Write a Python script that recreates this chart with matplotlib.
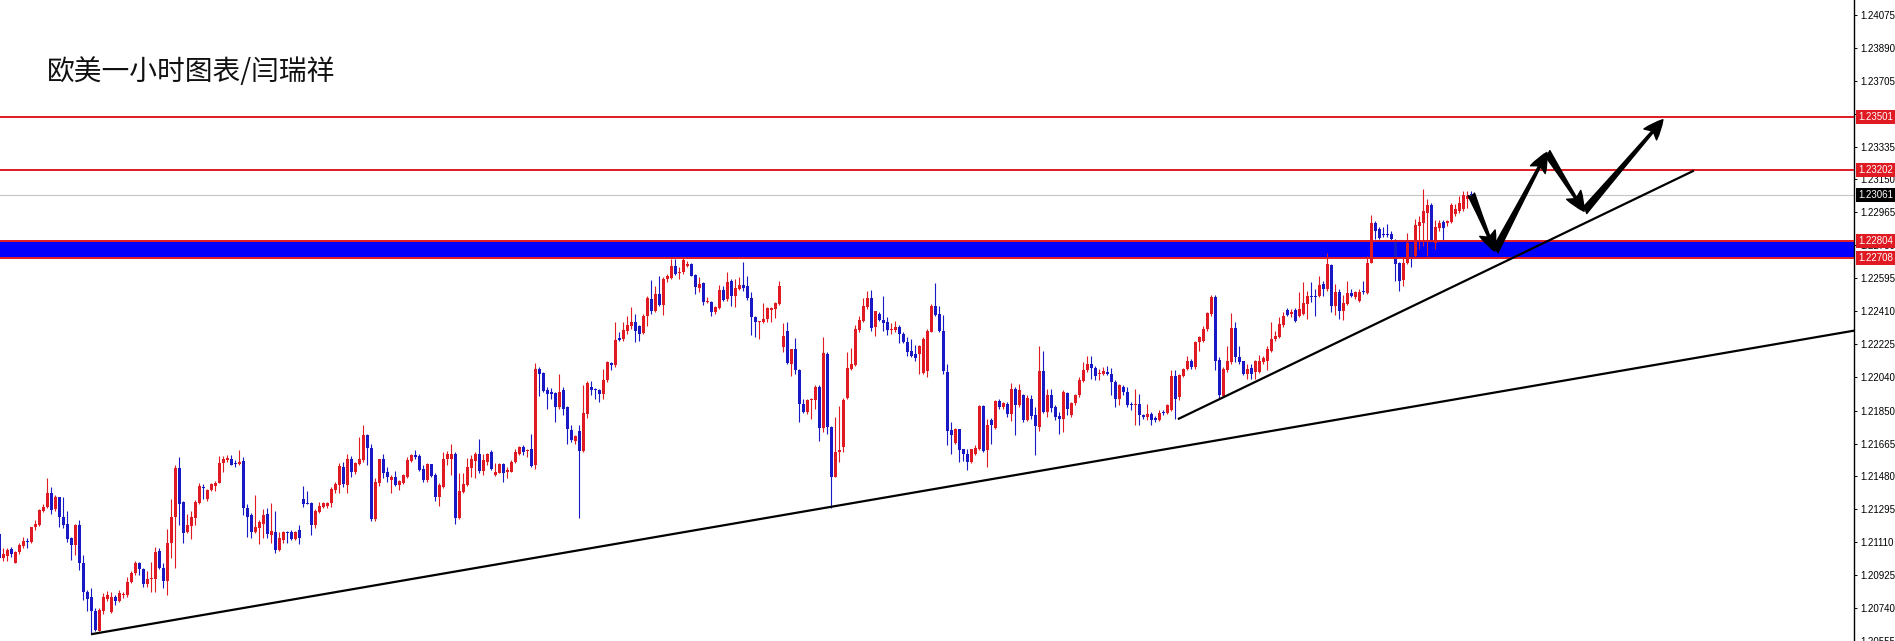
import matplotlib
matplotlib.use("Agg")
import matplotlib.pyplot as plt
import matplotlib.transforms as mtransforms
from matplotlib.patches import FancyArrowPatch

# EURUSD 1h candles, oldest first
opens = [
    1.21155, 1.21020, 1.21031, 1.21073, 1.20996, 1.21054, 1.21089, 1.21117, 1.21114, 1.21194,
    1.21207, 1.21285, 1.21310, 1.21385, 1.21295, 1.21362, 1.21254, 1.21213, 1.21132, 1.21095,
    1.21207, 1.20992, 1.20828, 1.20800, 1.20721, 1.20613, 1.20721, 1.20792, 1.20718, 1.20805,
    1.20781, 1.20811, 1.20815, 1.20889, 1.20936, 1.20992, 1.20959, 1.20876, 1.20903, 1.20904,
    1.21063, 1.20968, 1.20893, 1.21108, 1.21254, 1.21525, 1.21338, 1.21166, 1.21203, 1.21248,
    1.21329, 1.21422, 1.21353, 1.21403, 1.21428, 1.21446, 1.21558, 1.21575, 1.21577, 1.21553,
    1.21549, 1.21568, 1.21304, 1.21263, 1.21166, 1.21188, 1.21211, 1.21267, 1.21151, 1.21170,
    1.21067, 1.21123, 1.21166, 1.21166, 1.21129, 1.21177, 1.21352, 1.21333, 1.21329, 1.21208,
    1.21282, 1.21311, 1.21316, 1.21329, 1.21404, 1.21432, 1.21531, 1.21432, 1.21576, 1.21503,
    1.21550, 1.21572, 1.21716, 1.21641, 1.21241, 1.21441, 1.21576, 1.21507, 1.21460, 1.21479,
    1.21432, 1.21441, 1.21479, 1.21568, 1.21600, 1.21594, 1.21522, 1.21460, 1.21548, 1.21488,
    1.21367, 1.21423, 1.21578, 1.21581, 1.21606, 1.21245, 1.21391, 1.21432, 1.21525, 1.21568,
    1.21609, 1.21510, 1.21563, 1.21619, 1.21488, 1.21501, 1.21550, 1.21503, 1.21507, 1.21559,
    1.21609, 1.21647, 1.21622, 1.21632, 1.21544, 1.22086, 1.22063, 1.21968, 1.21949, 1.21949,
    1.21871, 1.21964, 1.21871, 1.21744, 1.21680, 1.21736, 1.21622, 1.21834, 1.21983, 1.21970,
    1.21964, 1.21942, 1.22020, 1.22119, 1.22104, 1.22257, 1.22253, 1.22300, 1.22328, 1.22347,
    1.22328, 1.22287, 1.22380, 1.22478, 1.22408, 1.22506, 1.22444, 1.22590, 1.22595, 1.22664,
    1.22623, 1.22627, 1.22664, 1.22672, 1.22612, 1.22537, 1.22567, 1.22459, 1.22463, 1.22403,
    1.22425, 1.22530, 1.22478, 1.22580, 1.22493, 1.22534, 1.22556, 1.22549, 1.22483, 1.22379,
    1.22347, 1.22347, 1.22366, 1.22418, 1.22422, 1.22450, 1.22207, 1.22296, 1.22110, 1.22194,
    1.22080, 1.21889, 1.21842, 1.21908, 1.21908, 1.21983, 1.21755, 1.22169, 1.21758, 1.21478,
    1.21618, 1.21646, 1.21923, 1.22085, 1.22104, 1.22304, 1.22356, 1.22431, 1.22481, 1.22319,
    1.22394, 1.22362, 1.22347, 1.22304, 1.22304, 1.22323, 1.22282, 1.22235, 1.22188, 1.22169,
    1.22169, 1.22063, 1.22071, 1.22295, 1.22437, 1.22394, 1.22300, 1.22067, 1.21740, 1.21671,
    1.21745, 1.21637, 1.21609, 1.21559, 1.21609, 1.21637, 1.21874, 1.21628, 1.21796, 1.21753,
    1.21902, 1.21871, 1.21886, 1.21830, 1.21973, 1.21880, 1.21940, 1.21796, 1.21917, 1.21824,
    1.21759, 1.22072, 1.21843, 1.21936, 1.21871, 1.21818, 1.21805, 1.21949, 1.21824, 1.21893,
    1.21936, 1.22016, 1.22076, 1.22114, 1.22091, 1.22054, 1.22058, 1.22067, 1.22058, 1.22014,
    1.21914, 1.21983, 1.21955, 1.21886, 1.21880, 1.21889, 1.21824, 1.21815, 1.21833, 1.21809,
    1.21796, 1.21843, 1.21839, 1.21852, 1.22043, 1.21927, 1.22044, 1.22082, 1.22127, 1.22095,
    1.22235, 1.22244, 1.22309, 1.22393, 1.22490, 1.22137, 1.21932, 1.22076, 1.22122, 1.22315,
    1.22151, 1.22128, 1.22057, 1.22089, 1.22066, 1.22070, 1.22122, 1.22132, 1.22188, 1.22253,
    1.22263, 1.22332, 1.22416, 1.22393, 1.22418, 1.22384, 1.22393, 1.22449, 1.22496, 1.22496,
    1.22496, 1.22561, 1.22534, 1.22670, 1.22436, 1.22515, 1.22412, 1.22449, 1.22509, 1.22490,
    1.22468, 1.22524, 1.22511, 1.22683, 1.22903, 1.22873, 1.22842, 1.22842, 1.22845, 1.22810,
    1.22683, 1.22586, 1.22683, 1.22786, 1.22720, 1.22888, 1.22903, 1.22963, 1.23006, 1.22795,
    1.22879, 1.22911, 1.22903, 1.22911, 1.22954, 1.22972, 1.22982, 1.23038, 1.23063,
]
highs = [
    1.21170, 1.21076, 1.21080, 1.21082, 1.21061, 1.21104, 1.21142, 1.21132, 1.21198, 1.21235,
    1.21297, 1.21323, 1.21474, 1.21422, 1.21375, 1.21366, 1.21362, 1.21287, 1.21142, 1.21213,
    1.21235, 1.21039, 1.20843, 1.20852, 1.20740, 1.20740, 1.20824, 1.20837, 1.20830, 1.20815,
    1.20843, 1.20833, 1.20914, 1.20949, 1.21005, 1.20998, 1.20964, 1.20946, 1.20998, 1.21086,
    1.21076, 1.20992, 1.21185, 1.21351, 1.21547, 1.21590, 1.21342, 1.21267, 1.21285, 1.21347,
    1.21446, 1.21435, 1.21409, 1.21441, 1.21454, 1.21596, 1.21594, 1.21599, 1.21603, 1.21571,
    1.21631, 1.21590, 1.21323, 1.21272, 1.21375, 1.21235, 1.21297, 1.21300, 1.21332, 1.21285,
    1.21166, 1.21173, 1.21173, 1.21179, 1.21173, 1.21207, 1.21428, 1.21398, 1.21335, 1.21297,
    1.21335, 1.21339, 1.21339, 1.21423, 1.21451, 1.21557, 1.21559, 1.21604, 1.21596, 1.21563,
    1.21703, 1.21768, 1.21721, 1.21665, 1.21469, 1.21581, 1.21609, 1.21535, 1.21488, 1.21510,
    1.21460, 1.21492, 1.21591, 1.21609, 1.21628, 1.21607, 1.21544, 1.21553, 1.21550, 1.21497,
    1.21441, 1.21619, 1.21622, 1.21662, 1.21619, 1.21497, 1.21497, 1.21585, 1.21600, 1.21619,
    1.21688, 1.21609, 1.21613, 1.21628, 1.21553, 1.21553, 1.21553, 1.21531, 1.21572, 1.21637,
    1.21650, 1.21656, 1.21634, 1.21721, 1.22117, 1.22095, 1.22067, 1.21983, 1.21977, 1.21955,
    1.22058, 1.21983, 1.21877, 1.21768, 1.21716, 1.21768, 1.21992, 1.22015, 1.22015, 1.21977,
    1.21970, 1.22082, 1.22128, 1.22126, 1.22347, 1.22295, 1.22347, 1.22384, 1.22435, 1.22394,
    1.22332, 1.22394, 1.22493, 1.22586, 1.22549, 1.22605, 1.22599, 1.22618, 1.22702, 1.22702,
    1.22655, 1.22711, 1.22692, 1.22679, 1.22618, 1.22599, 1.22571, 1.22487, 1.22466, 1.22440,
    1.22556, 1.22552, 1.22627, 1.22590, 1.22590, 1.22599, 1.22687, 1.22605, 1.22515, 1.22380,
    1.22356, 1.22455, 1.22431, 1.22435, 1.22463, 1.22580, 1.22343, 1.22347, 1.22197, 1.22257,
    1.22085, 1.21917, 1.21917, 1.21921, 1.21992, 1.21992, 1.22263, 1.22179, 1.21764, 1.21814,
    1.21876, 1.21921, 1.22182, 1.22201, 1.22332, 1.22384, 1.22483, 1.22524, 1.22530, 1.22412,
    1.22403, 1.22496, 1.22375, 1.22343, 1.22352, 1.22332, 1.22295, 1.22263, 1.22254, 1.22220,
    1.22220, 1.22263, 1.22310, 1.22450, 1.22567, 1.22440, 1.22388, 1.22113, 1.21787, 1.21753,
    1.21749, 1.21637, 1.21637, 1.21637, 1.21656, 1.21880, 1.21880, 1.21805, 1.21809, 1.21908,
    1.21917, 1.21899, 1.21899, 1.22007, 1.21983, 1.21998, 1.21945, 1.21940, 1.21936, 1.21871,
    1.22212, 1.22188, 1.21970, 1.21973, 1.21880, 1.21843, 1.21964, 1.21955, 1.21899, 1.21945,
    1.22039, 1.22123, 1.22160, 1.22160, 1.22099, 1.22085, 1.22095, 1.22099, 1.22089, 1.22024,
    1.22001, 1.21996, 1.21983, 1.21899, 1.21973, 1.21945, 1.21833, 1.21889, 1.21843, 1.21820,
    1.21852, 1.21852, 1.21889, 1.22076, 1.22076, 1.22057, 1.22089, 1.22160, 1.22141, 1.22244,
    1.22272, 1.22328, 1.22406, 1.22502, 1.22500, 1.22151, 1.22094, 1.22216, 1.22399, 1.22347,
    1.22216, 1.22132, 1.22113, 1.22113, 1.22137, 1.22164, 1.22160, 1.22216, 1.22347, 1.22300,
    1.22375, 1.22403, 1.22425, 1.22421, 1.22425, 1.22515, 1.22571, 1.22524, 1.22571, 1.22534,
    1.22608, 1.22580, 1.22739, 1.22674, 1.22561, 1.22533, 1.22500, 1.22580, 1.22533, 1.22524,
    1.22533, 1.22580, 1.22717, 1.22948, 1.22916, 1.22885, 1.22885, 1.22898, 1.22860, 1.22815,
    1.22687, 1.22711, 1.22847, 1.22795, 1.22926, 1.22944, 1.23094, 1.23038, 1.23019, 1.22922,
    1.22922, 1.22922, 1.22922, 1.23019, 1.23010, 1.23056, 1.23085, 1.23085, 1.23085,
]
lows = [
    1.21011, 1.21005, 1.21002, 1.21030, 1.20992, 1.21043, 1.21080, 1.21080, 1.21104, 1.21179,
    1.21203, 1.21278, 1.21300, 1.21267, 1.21285, 1.21198, 1.21192, 1.21114, 1.21011, 1.21039,
    1.20955, 1.20787, 1.20721, 1.20594, 1.20609, 1.20609, 1.20706, 1.20781, 1.20712, 1.20755,
    1.20777, 1.20796, 1.20805, 1.20880, 1.20927, 1.20927, 1.20861, 1.20856, 1.20833, 1.20833,
    1.20959, 1.20852, 1.20811, 1.21020, 1.20968, 1.21207, 1.21108, 1.21160, 1.21129, 1.21207,
    1.21323, 1.21356, 1.21342, 1.21398, 1.21398, 1.21441, 1.21506, 1.21562, 1.21543, 1.21534,
    1.21547, 1.21263, 1.21142, 1.21132, 1.21160, 1.21101, 1.21132, 1.21136, 1.21104, 1.21052,
    1.21063, 1.21104, 1.21108, 1.21121, 1.21123, 1.21101, 1.21310, 1.21324, 1.21152, 1.21189,
    1.21273, 1.21301, 1.21305, 1.21310, 1.21385, 1.21385, 1.21419, 1.21389, 1.21479, 1.21494,
    1.21544, 1.21563, 1.21544, 1.21230, 1.21230, 1.21428, 1.21469, 1.21451, 1.21385, 1.21428,
    1.21404, 1.21436, 1.21469, 1.21563, 1.21581, 1.21510, 1.21447, 1.21451, 1.21479, 1.21344,
    1.21314, 1.21413, 1.21544, 1.21488, 1.21213, 1.21241, 1.21385, 1.21426, 1.21479, 1.21469,
    1.21497, 1.21488, 1.21544, 1.21514, 1.21482, 1.21497, 1.21451, 1.21469, 1.21503, 1.21553,
    1.21600, 1.21600, 1.21591, 1.21535, 1.21522, 1.21931, 1.21955, 1.21862, 1.21918, 1.21787,
    1.21862, 1.21824, 1.21665, 1.21675, 1.21665, 1.21245, 1.21619, 1.21809, 1.21936, 1.21918,
    1.21899, 1.21917, 1.22014, 1.22076, 1.22095, 1.22244, 1.22244, 1.22281, 1.22310, 1.22238,
    1.22244, 1.22281, 1.22328, 1.22394, 1.22403, 1.22437, 1.22388, 1.22571, 1.22590, 1.22612,
    1.22590, 1.22618, 1.22655, 1.22605, 1.22506, 1.22515, 1.22444, 1.22455, 1.22380, 1.22394,
    1.22422, 1.22468, 1.22468, 1.22437, 1.22431, 1.22530, 1.22524, 1.22474, 1.22276, 1.22263,
    1.22253, 1.22343, 1.22351, 1.22351, 1.22369, 1.22444, 1.22182, 1.22110, 1.22044, 1.22054,
    1.21786, 1.21839, 1.21833, 1.21805, 1.21861, 1.21680, 1.21730, 1.21721, 1.21301, 1.21475,
    1.21562, 1.21618, 1.21917, 1.22076, 1.22100, 1.22295, 1.22347, 1.22422, 1.22300, 1.22272,
    1.22356, 1.22300, 1.22278, 1.22281, 1.22291, 1.22231, 1.22231, 1.22156, 1.22151, 1.22132,
    1.22057, 1.22057, 1.22039, 1.22291, 1.22381, 1.22291, 1.22057, 1.21656, 1.21609, 1.21665,
    1.21563, 1.21566, 1.21516, 1.21553, 1.21600, 1.21628, 1.21618, 1.21534, 1.21665, 1.21749,
    1.21861, 1.21861, 1.21815, 1.21790, 1.21716, 1.21871, 1.21787, 1.21790, 1.21802, 1.21600,
    1.21734, 1.21839, 1.21815, 1.21843, 1.21796, 1.21721, 1.21731, 1.21824, 1.21815, 1.21880,
    1.21927, 1.22011, 1.22067, 1.22030, 1.22020, 1.22020, 1.22048, 1.22048, 1.21936, 1.21871,
    1.21880, 1.21936, 1.21871, 1.21852, 1.21768, 1.21768, 1.21805, 1.21796, 1.21772, 1.21787,
    1.21790, 1.21824, 1.21833, 1.21846, 1.21805, 1.21908, 1.22039, 1.22076, 1.22085, 1.22085,
    1.22188, 1.22235, 1.22300, 1.22384, 1.22076, 1.21917, 1.21926, 1.22070, 1.22113, 1.22122,
    1.22113, 1.22048, 1.22029, 1.22029, 1.22029, 1.22063, 1.22113, 1.22076, 1.22182, 1.22244,
    1.22257, 1.22319, 1.22380, 1.22375, 1.22350, 1.22375, 1.22388, 1.22365, 1.22459, 1.22384,
    1.22487, 1.22496, 1.22524, 1.22403, 1.22390, 1.22365, 1.22362, 1.22444, 1.22487, 1.22477,
    1.22459, 1.22505, 1.22505, 1.22679, 1.22814, 1.22814, 1.22829, 1.22829, 1.22799, 1.22580,
    1.22524, 1.22552, 1.22674, 1.22655, 1.22711, 1.22758, 1.22776, 1.22720, 1.22795, 1.22758,
    1.22860, 1.22799, 1.22888, 1.22907, 1.22944, 1.22963, 1.22972, 1.22991, 1.23047,
]
closes = [
    1.21020, 1.21043, 1.21069, 1.21045, 1.21054, 1.21095, 1.21117, 1.21110, 1.21194, 1.21213,
    1.21291, 1.21310, 1.21385, 1.21291, 1.21366, 1.21252, 1.21207, 1.21129, 1.21095, 1.21207,
    1.20992, 1.20828, 1.20790, 1.20721, 1.20619, 1.20731, 1.20802, 1.20811, 1.20805, 1.20781,
    1.20824, 1.20818, 1.20889, 1.20936, 1.20992, 1.20959, 1.20876, 1.20903, 1.20908, 1.21058,
    1.20968, 1.20893, 1.21108, 1.21254, 1.21528, 1.21325, 1.21160, 1.21207, 1.21254, 1.21338,
    1.21428, 1.21416, 1.21403, 1.21435, 1.21444, 1.21558, 1.21581, 1.21584, 1.21547, 1.21549,
    1.21564, 1.21304, 1.21254, 1.21170, 1.21194, 1.21222, 1.21263, 1.21155, 1.21173, 1.21067,
    1.21132, 1.21166, 1.21160, 1.21127, 1.21170, 1.21132, 1.21325, 1.21325, 1.21208, 1.21288,
    1.21316, 1.21329, 1.21333, 1.21410, 1.21436, 1.21538, 1.21437, 1.21576, 1.21503, 1.21553,
    1.21576, 1.21716, 1.21641, 1.21241, 1.21451, 1.21576, 1.21501, 1.21475, 1.21479, 1.21432,
    1.21454, 1.21488, 1.21572, 1.21600, 1.21591, 1.21516, 1.21460, 1.21548, 1.21484, 1.21363,
    1.21432, 1.21581, 1.21604, 1.21606, 1.21245, 1.21398, 1.21436, 1.21531, 1.21576, 1.21609,
    1.21510, 1.21572, 1.21609, 1.21520, 1.21507, 1.21550, 1.21501, 1.21516, 1.21563, 1.21619,
    1.21647, 1.21619, 1.21628, 1.21538, 1.22086, 1.22058, 1.21961, 1.21946, 1.21946, 1.21871,
    1.21955, 1.21858, 1.21746, 1.21684, 1.21708, 1.21622, 1.21839, 1.22005, 1.21964, 1.21964,
    1.21946, 1.22024, 1.22123, 1.22108, 1.22248, 1.22250, 1.22304, 1.22334, 1.22347, 1.22300,
    1.22281, 1.22384, 1.22483, 1.22408, 1.22506, 1.22444, 1.22593, 1.22608, 1.22664, 1.22618,
    1.22627, 1.22696, 1.22672, 1.22608, 1.22543, 1.22562, 1.22459, 1.22464, 1.22403, 1.22431,
    1.22530, 1.22474, 1.22571, 1.22493, 1.22537, 1.22556, 1.22537, 1.22481, 1.22375, 1.22347,
    1.22352, 1.22366, 1.22425, 1.22425, 1.22455, 1.22552, 1.22272, 1.22117, 1.22194, 1.22076,
    1.21885, 1.21842, 1.21912, 1.21912, 1.21983, 1.21755, 1.22173, 1.21758, 1.21478, 1.21618,
    1.21628, 1.21908, 1.22091, 1.22113, 1.22310, 1.22362, 1.22437, 1.22481, 1.22313, 1.22408,
    1.22362, 1.22343, 1.22306, 1.22310, 1.22323, 1.22281, 1.22235, 1.22179, 1.22160, 1.22145,
    1.22216, 1.22254, 1.22300, 1.22440, 1.22388, 1.22300, 1.22071, 1.21734, 1.21712, 1.21745,
    1.21628, 1.21604, 1.21563, 1.21633, 1.21641, 1.21874, 1.21624, 1.21772, 1.21768, 1.21902,
    1.21871, 1.21893, 1.21833, 1.21970, 1.21880, 1.21964, 1.21796, 1.21921, 1.21820, 1.21764,
    1.22071, 1.21843, 1.21936, 1.21865, 1.21815, 1.21802, 1.21955, 1.21858, 1.21893, 1.21936,
    1.22024, 1.22080, 1.22114, 1.22089, 1.22043, 1.22063, 1.22074, 1.22058, 1.22011, 1.21917,
    1.21992, 1.21955, 1.21880, 1.21880, 1.21889, 1.21824, 1.21815, 1.21833, 1.21796, 1.21796,
    1.21839, 1.21837, 1.21884, 1.22043, 1.21917, 1.22048, 1.22085, 1.22127, 1.22095, 1.22235,
    1.22263, 1.22309, 1.22399, 1.22490, 1.22132, 1.21936, 1.22085, 1.22128, 1.22315, 1.22151,
    1.22122, 1.22057, 1.22085, 1.22057, 1.22128, 1.22128, 1.22145, 1.22197, 1.22253, 1.22272,
    1.22337, 1.22384, 1.22388, 1.22403, 1.22356, 1.22421, 1.22455, 1.22496, 1.22487, 1.22487,
    1.22558, 1.22534, 1.22674, 1.22436, 1.22515, 1.22412, 1.22455, 1.22509, 1.22496, 1.22519,
    1.22519, 1.22515, 1.22683, 1.22903, 1.22860, 1.22823, 1.22836, 1.22836, 1.22814, 1.22674,
    1.22580, 1.22683, 1.22795, 1.22711, 1.22892, 1.22911, 1.22972, 1.23006, 1.22804, 1.22885,
    1.22903, 1.22879, 1.22916, 1.23004, 1.22982, 1.23019, 1.23060, 1.23057, 1.23061,
]

# drawn objects
red_levels = [1.23501, 1.23202, 1.22804, 1.22708]
band_low, band_high = 1.22716, 1.22800
last_price = 1.23061
tick_values = [1.24075, 1.23890, 1.23705, 1.23520, 1.23335, 1.23150, 1.22965, 1.22780,
               1.22595, 1.22410, 1.22225, 1.22040, 1.21850, 1.21665, 1.21480, 1.21295,
               1.21110, 1.20925, 1.20740, 1.20555]
long_trend_x, long_trend_y = [23.2, 463.7], [1.20594, 1.22300]
short_trend_x, short_trend_y = [294.9, 423.4], [1.21805, 1.23197]
path_x = [368.0, 373.9, 386.9, 396.2, 415.9]
path_y = [1.23066, 1.22747, 1.23302, 1.22971, 1.23486]

title = "欧美一小时图表/闫瑞祥"

RED = "#e01a22"
BLUE = "#1818c4"

W, H = 1895, 641
fig = plt.figure(figsize=(W / 100, H / 100), dpi=100)
ax = fig.add_axes([0, 0, 1854 / W, 1])
ax.set_facecolor("white")

# candles
xs = list(range(len(closes)))
cols = [RED if c > o else BLUE for o, c in zip(opens, closes)]
ax.vlines(xs, lows, highs, colors=cols, linewidth=0.8, zorder=3)
bottoms = [min(o, c) for o, c in zip(opens, closes)]
heights = [max(abs(c - o), 0.00007) for o, c in zip(opens, closes)]
ax.bar(xs, heights, bottom=bottoms, width=0.7, color=cols, linewidth=0, zorder=3)

# levels
ax.axhspan(band_low, band_high, color="#0000ff", lw=0, zorder=1)
for lvl in red_levels:
    ax.axhline(lvl, color=RED, linewidth=1.4, zorder=4)
ax.axhline(last_price, color="#c4c4c4", linewidth=0.8, zorder=1)

# trend lines
ax.plot(long_trend_x, long_trend_y, color="black", linewidth=1.6, zorder=5)
ax.plot(short_trend_x, short_trend_y, color="black", linewidth=1.6, zorder=5)

# projected path arrows
for k in range(len(path_x) - 1):
    arr = FancyArrowPatch((path_x[k], path_y[k]), (path_x[k + 1], path_y[k + 1]),
                          arrowstyle="fancy,head_length=0.7,head_width=0.6,tail_width=0.25",
                          mutation_scale=20, color="black", shrinkA=0, shrinkB=0, zorder=6)
    ax.add_patch(arr)

ax.set_xlim(0.175, 463.675)
ax.set_ylim(1.20566, 1.24159)

# right price axis
for s in ["left", "top", "bottom"]:
    ax.spines[s].set_visible(False)
ax.spines["right"].set_linewidth(1.0)
ax.set_xticks([])
ax.yaxis.tick_right()
ax.set_yticks(tick_values)
ax.set_yticklabels([f"{v:.5f}" for v in tick_values], fontsize=7, family="Liberation Sans")
ax.tick_params(axis="y", direction="out", length=2.5, width=0.7, pad=2, colors="black")

lbl_tr = mtransforms.blended_transform_factory(ax.transAxes, ax.transData)
for lvl in red_levels:
    ax.text(1.0 + 4 / 1854, lvl, f"{lvl:.5f}", transform=lbl_tr, ha="left", va="center",
            fontsize=7, family="Liberation Sans", color="white", clip_on=False, zorder=7,
            bbox=dict(boxstyle="square,pad=0.2", fc=RED, ec="none"))
ax.text(1.0 + 4 / 1854, last_price, f"{last_price:.5f}", transform=lbl_tr, ha="left", va="center",
        fontsize=7, family="Liberation Sans", color="white", clip_on=False, zorder=7,
        bbox=dict(boxstyle="square,pad=0.2", fc="black", ec="none"))

ax.text(47 / 1854, 1 - 72 / 641, title, transform=ax.transAxes, ha="left", va="center",
        fontsize=20, color="#111111", family=["Noto Sans CJK SC", "DejaVu Sans"])

fig.savefig("out.png", dpi=100)
